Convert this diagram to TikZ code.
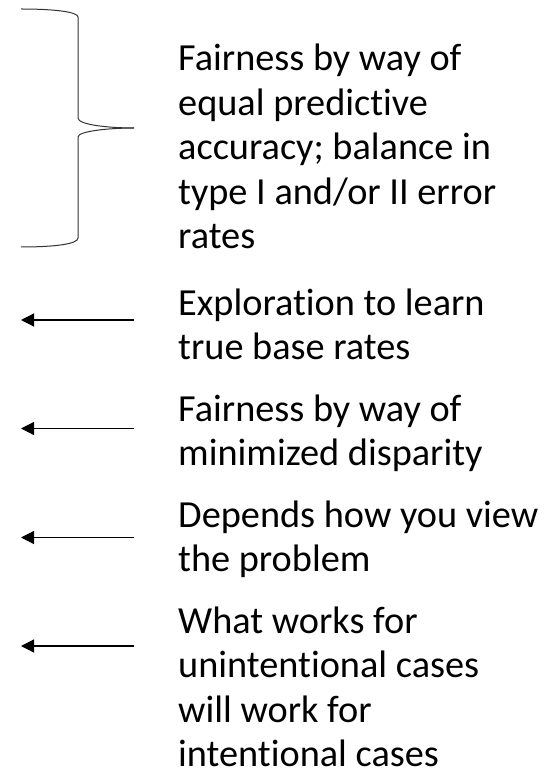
\documentclass[tikz,border=0pt]{standalone}
\usepackage{fontspec}
\setmainfont[Ligatures=NoCommon]{Carlito}
\usetikzlibrary{arrows.meta}
\tikzset{
  lbl/.style={anchor=base west, inner sep=0pt, font=\fontsize{38.3}{44.5}\selectfont},
  arr/.style={line width=1.2pt, -{Triangle[length=13pt,width=13pt]}},
  brace/.style={line width=1pt, draw=black!80}
}
\newcommand{\blk}[1]{\parbox[t]{370pt}{\raggedright #1}}
\begin{document}
\begin{tikzpicture}[x=1pt,y=-1pt]
\useasboundingbox (0,0) rectangle (554,775);
% brace
\draw[brace] (21,9) .. controls (55,9) and (78,12) .. (78,17) -- (78,118)
  .. controls (78,125) and (110,128) .. (134,128);
\draw[brace] (134,128) .. controls (110,128) and (78,131) .. (78,137) -- (78,238)
  .. controls (78,244) and (55,247) .. (21,247);
% texts
\node[lbl] (t1) at (178,71) {\blk{Fairness by way of\\equal predictive\\accuracy; balance in\\type I and/or II error\\rates}};
\node[lbl] (t2) at (178,315) {\blk{Exploration to learn\\true base rates}};
\node[lbl] (t3) at (178,421) {\blk{Fairness by way of\\minimized disparity}};
\node[lbl] (t4) at (178,527) {\blk{Depends how you view\\the problem}};
\node[lbl] (t5) at (178,633) {\blk{What works for\\unintentional cases\\will work for\\intentional cases}};
% arrows
\coordinate (a1s) at (134,320); \coordinate (a1e) at (21,320);
\coordinate (a2s) at (134,428.5); \coordinate (a2e) at (21,428.5);
\coordinate (a3s) at (134,537.5); \coordinate (a3e) at (21,537.5);
\coordinate (a4s) at (134,646); \coordinate (a4e) at (21,646);
\draw[arr] (a1s) -- (a1e);
\draw[arr] (a2s) -- (a2e);
\draw[arr] (a3s) -- (a3e);
\draw[arr] (a4s) -- (a4e);
\end{tikzpicture}
\end{document}
